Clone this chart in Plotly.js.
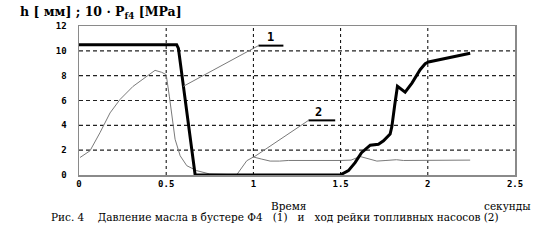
<!DOCTYPE html>
<html>
<head>
<meta charset="utf-8">
<script src="https://cdn.plot.ly/plotly-3.0.1.min.js"></script>
<style>html,body{margin:0;padding:0;background:#fff;}#chart{width:546px;height:244px;}</style>
</head>
<body>
<div id="chart"></div>
<script>
// Series 1: oil pressure in booster F4 (thick line), 10*P [MPa]
const time1 = [0, 0.56, 0.57, 0.598, 0.637, 0.666, 1.0, 1.497, 1.545, 1.583, 1.62, 1.67, 1.717, 1.746, 1.784, 1.794, 1.81, 1.826, 1.87, 1.909, 1.956, 1.985, 2.004, 2.243];
const pressure1 = [10.5, 10.5, 10.2, 7.14, 3.1, 0, 0, 0, 0.35, 1.0, 1.8, 2.4, 2.48, 2.75, 3.3, 3.9, 5.6, 7.14, 6.67, 7.4, 8.48, 8.96, 9.1, 9.8];
// Series 2: fuel pump rack travel h [mm] (thin line)
const time2 = [0.006, 0.063, 0.12, 0.178, 0.235, 0.31, 0.35, 0.388, 0.436, 0.474, 0.5, 0.518, 0.532, 0.551, 0.58, 0.618, 0.675, 0.75, 0.88, 0.905, 0.962, 1.0, 1.048, 1.096, 1.15, 1.2, 1.5, 1.56, 1.612, 1.66, 1.708, 1.76, 1.82, 1.86, 2.243];
const rack2 = [1.41, 1.95, 3.4, 5.0, 6.08, 7.14, 7.55, 7.95, 8.43, 8.27, 8.08, 6.35, 4.75, 2.88, 1.55, 0.75, 0.35, 0.08, 0.03, 0.03, 1.15, 1.45, 1.28, 1.12, 1.12, 1.17, 1.17, 1.2, 1.49, 1.3, 1.12, 1.17, 1.23, 1.17, 1.2];
// Axis ticks
const xTicks = [0, 0.5, 1, 1.5, 2, 2.5];
const xTickLabels = ['0', '0.5', '1', '1.5', '2', '2.5'];
const yTicks = [0, 2, 4, 6, 8, 10, 12];
const yTickLabels = ['0', '2', '4', '6', '8', '10', '12'];
// Series labels
const seriesLabels = ['1', '2'];

const labelGeom = [
  {text: [1.1, 11.14], under: [1.029, 1.172, 10.42], leadEnd: [0.598, 7.14]},
  {text: [1.373, 5.1], under: [1.316, 1.469, 4.4], leadEnd: [1.0, 1.42]}
];

const traces = [];
// dotted grid lines at the inner ticks, drawn through the axes' own scales
xTicks.slice(1, -1).forEach(v => traces.push({x: [v, v], y: [0, 12], type: 'scatter', mode: 'lines', line: {color: '#000', width: 1, dash: 'dot'}, hoverinfo: 'skip'}));
yTicks.slice(1, -1).forEach(v => traces.push({x: [0, 2.5], y: [v, v], type: 'scatter', mode: 'lines', line: {color: '#222', width: 1.2, dash: '4px,3px'}, hoverinfo: 'skip'}));
traces.push({x: time2, y: rack2, type: 'scatter', mode: 'lines', line: {color: '#7a7a7a', width: 1}, hoverinfo: 'skip'});
traces.push({x: time1, y: pressure1, type: 'scatter', mode: 'lines', line: {color: '#000', width: 3}, hoverinfo: 'skip'});

const shapes = [];
const annotations = [];
labelGeom.forEach((g, i) => {
  shapes.push({type: 'line', xref: 'x', yref: 'y', x0: g.under[0], x1: g.under[1], y0: g.under[2], y1: g.under[2], line: {color: '#000', width: 2}});
  shapes.push({type: 'line', xref: 'x', yref: 'y', x0: g.under[0], x1: g.leadEnd[0], y0: g.under[2], y1: g.leadEnd[1], line: {color: '#7a7a7a', width: 1}});
  annotations.push({x: g.text[0], y: g.text[1], xref: 'x', yref: 'y', text: seriesLabels[i], showarrow: false,
    font: {family: 'DejaVu Sans Mono', size: 12, color: '#000', weight: 'bold'}});
});

const serif = 'DejaVu Serif';
annotations.push({xref: 'paper', yref: 'paper', x: -0.14, y: 1.09, xanchor: 'left', yanchor: 'middle', showarrow: false,
  text: 'h [ мм] ; 10 · P<sub>f4</sub> [MPa]', font: {family: serif, size: 12.5, color: '#000', weight: 'bold'}});
annotations.push({xref: 'paper', yref: 'paper', x: 0.482, y: -0.21, xanchor: 'center', yanchor: 'middle', showarrow: false,
  text: 'Время', font: {family: serif, size: 10.5, color: '#000'}});
annotations.push({xref: 'paper', yref: 'paper', x: 0.982, y: -0.21, xanchor: 'center', yanchor: 'middle', showarrow: false,
  text: 'секунды', font: {family: serif, size: 10.5, color: '#000'}});
annotations.push({xref: 'paper', yref: 'paper', x: 0.449, y: -0.285, xanchor: 'center', yanchor: 'middle', showarrow: false,
  text: 'Рис. 4\u00a0\u00a0\u00a0\u00a0Давление масла в бустере Ф4\u00a0\u00a0\u00a0(1)\u00a0\u00a0 и\u00a0\u00a0 ход рейки топливных насосов (2)',
  font: {family: serif, size: 10.5, color: '#000'}});

const tickFont = {family: 'DejaVu Sans Mono', size: 9, color: '#000', weight: 'bold'};
const layout = {
  width: 546, height: 244,
  margin: {l: 79, r: 31, t: 25.5, b: 68.5, pad: 0},
  paper_bgcolor: '#fff', plot_bgcolor: '#fff',
  showlegend: false,
  xaxis: {range: [0, 2.5], tickvals: xTicks, ticktext: xTickLabels, showgrid: false,
    showline: true, mirror: true, linecolor: '#8a8a8a', linewidth: 1.5, zeroline: false, ticks: '', tickfont: tickFont, fixedrange: true},
  yaxis: {range: [0, 12], tickvals: yTicks, ticktext: yTickLabels, showgrid: false,
    showline: true, mirror: true, linecolor: '#8a8a8a', linewidth: 1.5, zeroline: false, ticks: 'outside', ticklen: 9, tickcolor: 'rgba(0,0,0,0)', tickfont: tickFont, fixedrange: true},
  shapes: shapes,
  annotations: annotations
};

Plotly.newPlot('chart', traces, layout, {displayModeBar: false, staticPlot: true});
</script>
</body>
</html>
